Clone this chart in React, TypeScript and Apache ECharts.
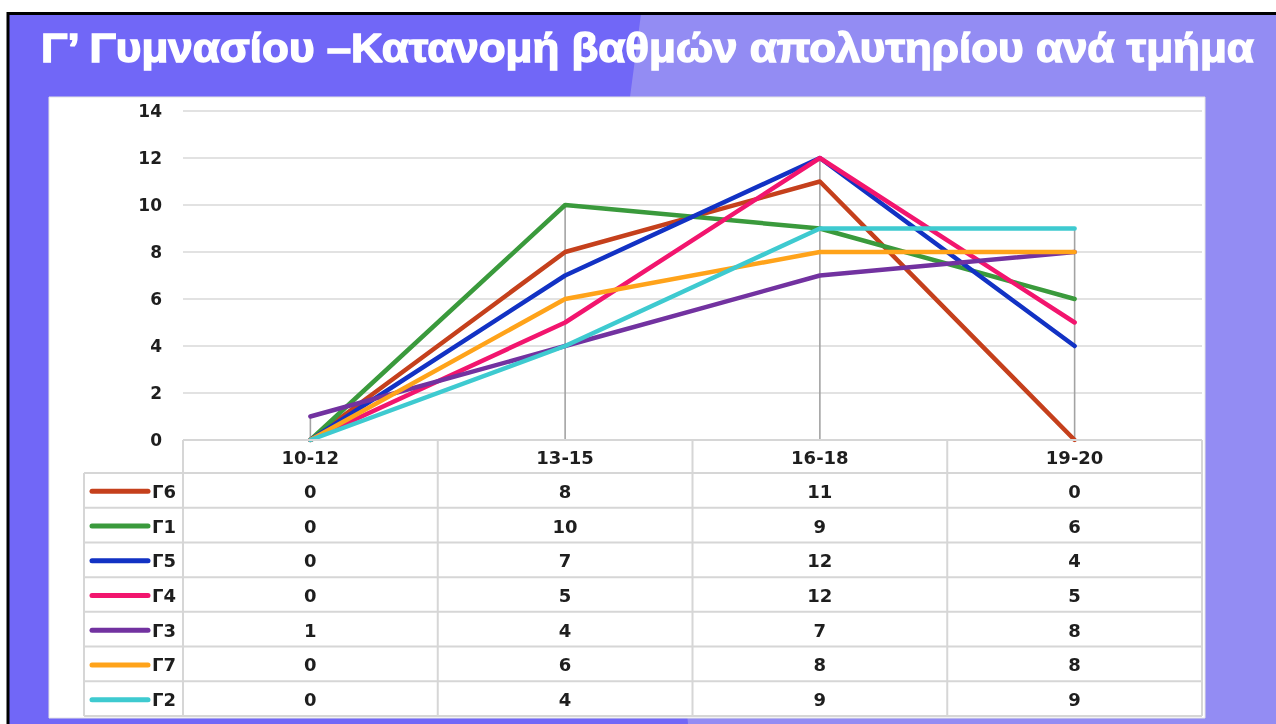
import React, { useEffect, useRef } from "react";
import * as echarts from "echarts";

const titleText = "Γ’ Γυμνασίου –Κατανομή βαθμών απολυτηρίου ανά τμήμα";
const categories = ["10-12", "13-15", "16-18", "19-20"];
const seriesNames = ["Γ6", "Γ1", "Γ5", "Γ4", "Γ3", "Γ7", "Γ2"];
const g6 = [0, 8, 11, 0];
const g1 = [0, 10, 9, 6];
const g5 = [0, 7, 12, 4];
const g4 = [0, 5, 12, 5];
const g3 = [1, 4, 7, 8];
const g7 = [0, 6, 8, 8];
const g2 = [0, 4, 9, 9];
const seriesValues = [g6, g1, g5, g4, g3, g7, g2];
const seriesColors = ["#C5401C", "#3A9A3C", "#1232C4", "#F2156E", "#7232A0", "#FFA31A", "#3ECAD0"];
const yMin = 0;
const yMax = 14;
const yInterval = 2;

const FONT = "'DejaVu Sans', Verdana, sans-serif";
const TITLE_FAMILY = "'Liberation Sans', Arial, sans-serif";
const TEXT_COLOR = "#1E1E1E";
const BORDER = "#D6D6D6";

export default function App() {
  const ref = useRef<HTMLDivElement>(null);

  useEffect(() => {
    document.body.style.margin = "0";
    const chart = echarts.init(ref.current!, null, { renderer: "svg" });

    const maxes = categories.map((_, i) => Math.max(...seriesValues.map((s) => s[i])));

    chart.setOption({
      animation: false,
      grid: { left: 183, right: 74, top: 111, bottom: 284, containLabel: false },
      xAxis: {
        type: "category",
        data: categories,
        boundaryGap: true,
        axisLine: { show: false },
        axisTick: { show: false },
        axisLabel: { show: false },
        splitLine: { show: false },
      },
      yAxis: {
        type: "value",
        min: yMin,
        max: yMax,
        interval: yInterval,
        axisLine: { show: false },
        axisTick: { show: false },
        axisLabel: {
          margin: 21,
          fontFamily: FONT,
          fontWeight: "bold",
          fontSize: 17,
          color: TEXT_COLOR,
        },
        splitLine: { lineStyle: { color: "#D9D9D9", width: 1.5 } },
      },
      series: [
        {
          type: "custom",
          z: 1,
          silent: true,
          data: maxes.map((m, i) => [i, m]),
          encode: { x: 0, y: 1 },
          renderItem: (params: any, api: any) => {
            const top = api.coord([api.value(0), api.value(1)]);
            const bottom = api.coord([api.value(0), 0]);
            return {
              type: "line",
              shape: { x1: top[0], y1: top[1], x2: bottom[0], y2: bottom[1] },
              style: { stroke: "#A3A3A3", lineWidth: 1.6 },
            };
          },
        },
        ...seriesNames.map((name, k) => ({
          name,
          type: "line",
          z: 3,
          data: seriesValues[k],
          symbol: "none",
          color: seriesColors[k],
          lineStyle: { width: 4.5, color: seriesColors[k], cap: "round", join: "round" },
        })),
      ],
    });

    const centers = categories.map((_, i) => chart.convertToPixel({ xAxisIndex: 0 } as any, i) as number);
    const band = centers[1] - centers[0];
    const colLeft = centers[0] - band / 2;
    const colRight = centers[centers.length - 1] + band / 2;
    const y0 = chart.convertToPixel({ yAxisIndex: 0 } as any, 0) as number;
    const headerH = 33;
    const rowsTop = y0 + headerH;
    const tableBottom = 716;
    const rowH = (tableBottom - rowsTop) / seriesNames.length;
    const legendLeft = 84;

    const canvas = document.createElement("canvas");
    const ctx = canvas.getContext("2d")!;
    ctx.font = "bold 40px " + TITLE_FAMILY;
    const measured = ctx.measureText(titleText).width || 1218;
    const titleScale = 1216 / measured;

    const graphics: any[] = [];
    graphics.push({ type: "rect", z: -20, silent: true, shape: { x: 0, y: 0, width: 1276, height: 724 }, style: { fill: "#FFFFFF" } });
    graphics.push({ type: "rect", z: -19, silent: true, shape: { x: 9, y: 14, width: 1267, height: 710 }, style: { fill: "#938CF3" } });
    graphics.push({
      type: "polygon", z: -18, silent: true,
      shape: { points: [[9, 14], [641, 14], [630, 97], [688, 724], [9, 724]] },
      style: { fill: "#7167F7" },
    });
    graphics.push({ type: "line", z: -17, silent: true, shape: { x1: 7, y1: 13.5, x2: 1276, y2: 13.5 }, style: { stroke: "#000", lineWidth: 3 } });
    graphics.push({ type: "line", z: -17, silent: true, shape: { x1: 8, y1: 12, x2: 8, y2: 724 }, style: { stroke: "#000", lineWidth: 3 } });
    graphics.push({ type: "rect", z: -10, silent: true, shape: { x: 49, y: 97, width: 1156, height: 621 }, style: { fill: "#FFFFFF", stroke: "#E4E4E4", lineWidth: 1 } });
    graphics.push({
      type: "text", z: 10, silent: true, x: 41, y: 48, scaleX: titleScale,
      style: {
        text: titleText, x: 0, y: 0, fill: "#FFFFFF",
        stroke: "#FFFFFF", lineWidth: 1.4,
        fontFamily: TITLE_FAMILY, fontWeight: "bold", fontSize: 40,
        align: "left", verticalAlign: "middle",
      },
    });

    const lineStyle = { stroke: BORDER, lineWidth: 2 };
    graphics.push({ type: "line", z: 5, silent: true, shape: { x1: colLeft, y1: y0, x2: colRight, y2: y0 }, style: lineStyle });
    for (let r = 0; r <= seriesNames.length; r++) {
      const y = rowsTop + r * rowH;
      graphics.push({ type: "line", z: 5, silent: true, shape: { x1: legendLeft, y1: y, x2: colRight, y2: y }, style: lineStyle });
    }
    graphics.push({ type: "line", z: 5, silent: true, shape: { x1: legendLeft, y1: rowsTop, x2: legendLeft, y2: tableBottom }, style: lineStyle });
    for (let c = 0; c <= categories.length; c++) {
      const x = colLeft + c * band;
      graphics.push({ type: "line", z: 5, silent: true, shape: { x1: x, y1: y0, x2: x, y2: tableBottom }, style: lineStyle });
    }
    categories.forEach((cat, i) => {
      graphics.push({
        type: "text", z: 6, silent: true,
        style: {
          text: cat, x: centers[i], y: y0 + headerH / 2 + 1, align: "center", verticalAlign: "middle",
          fontFamily: FONT, fontWeight: "bold", fontSize: 18, fill: TEXT_COLOR,
        },
      });
    });
    seriesNames.forEach((name, k) => {
      const cy = rowsTop + rowH * (k + 0.5) + 1;
      graphics.push({
        type: "line", z: 6, silent: true,
        shape: { x1: 92, y1: cy, x2: 148, y2: cy },
        style: { stroke: seriesColors[k], lineWidth: 5, lineCap: "round" },
      });
      graphics.push({
        type: "text", z: 6, silent: true,
        style: {
          text: name, x: 152, y: cy, align: "left", verticalAlign: "middle",
          fontFamily: FONT, fontWeight: "bold", fontSize: 18, fill: TEXT_COLOR,
        },
      });
      seriesValues[k].forEach((v, i) => {
        graphics.push({
          type: "text", z: 6, silent: true,
          style: {
            text: String(v), x: centers[i], y: cy, align: "center", verticalAlign: "middle",
            fontFamily: FONT, fontWeight: "bold", fontSize: 18, fill: TEXT_COLOR,
          },
        });
      });
    });

    chart.setOption({ graphic: graphics });

    return () => chart.dispose();
  }, []);

  return (
    <div
      ref={ref}
      style={{ position: "fixed", left: 0, top: 0, width: 1276, height: 724 }}
    />
  );
}
